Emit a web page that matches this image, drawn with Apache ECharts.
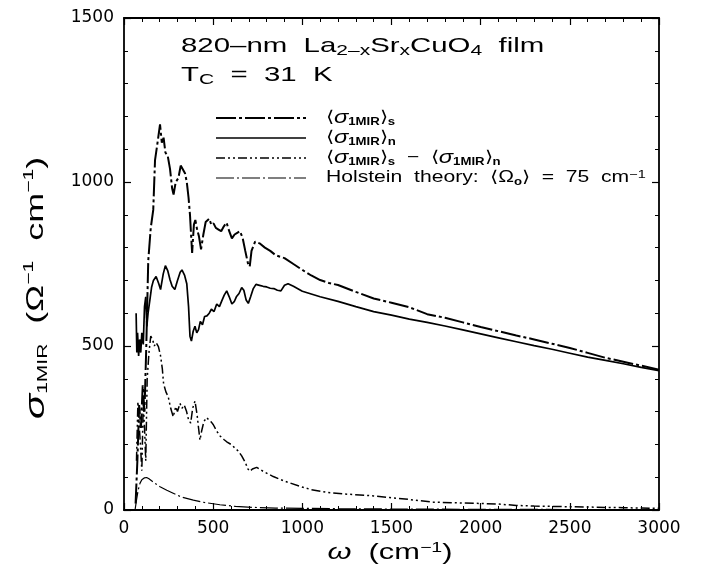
<!DOCTYPE html>
<html>
<head>
<meta charset="utf-8">
<script src="https://cdn.jsdelivr.net/npm/echarts@6/dist/echarts.min.js"></script>
<style>
  html, body { margin: 0; padding: 0; background: #fff; }
  #chart { width: 701px; height: 567px; }
</style>
</head>
<body>
<div id="chart"></div>
<script>
// Superconducting-state mid-infrared conductivity <sigma_1MIR>_s
const omegaS = [65, 75, 85, 95, 105, 115, 125, 136, 150, 164, 174, 188, 202, 212, 222, 232, 245, 258, 270, 278, 290, 305, 318, 328, 342, 352, 362, 370, 376, 382, 392, 400, 410, 420, 432, 445, 458, 468, 478, 490, 502, 515, 530, 545, 560, 575, 590, 605, 620, 635, 650, 665, 680, 695, 705, 715, 735, 760, 790, 820, 850, 875, 900, 950, 1000, 1050, 1100, 1150, 1200, 1300, 1400, 1500, 1600, 1700, 1800, 1900, 2000, 2100, 2200, 2300, 2400, 2500, 2600, 2700, 2800, 2900, 3000];
const sigmaS = [20, 150, 320, 250, 380, 300, 500, 760, 860, 915, 1067, 1120, 1176, 1120, 1135, 1090, 1080, 1040, 980, 962, 1000, 1012, 1050, 1055, 1027, 1000, 952, 900, 840, 784, 870, 884, 855, 835, 795, 840, 878, 872, 888, 869, 874, 860, 855, 850, 865, 876, 850, 828, 840, 845, 850, 830, 790, 752, 742, 790, 818, 813, 800, 790, 777, 772, 768, 750, 732, 715, 701, 692, 686, 665, 645, 632, 618, 597, 586, 572, 558, 545, 532, 520, 507, 494, 479, 464, 452, 440, 428];

// Normal-state mid-infrared conductivity <sigma_1MIR>_n
const omegaN = [68, 72, 76, 82, 88, 94, 100, 108, 115, 122, 128, 135, 145, 155, 165, 180, 195, 205, 220, 232, 245, 258, 270, 285, 300, 315, 325, 340, 352, 362, 370, 378, 388, 398, 408, 418, 428, 440, 452, 465, 478, 490, 505, 520, 535, 550, 562, 576, 590, 605, 618, 630, 645, 660, 672, 685, 697, 710, 725, 740, 760, 780, 800, 820, 840, 860, 880, 900, 920, 950, 1000, 1100, 1200, 1300, 1400, 1500, 1600, 1700, 1800, 1900, 2000, 2100, 2200, 2300, 2400, 2500, 2600, 2700, 2800, 2900, 3000];
const sigmaN = [600, 480, 540, 470, 520, 480, 540, 505, 620, 650, 560, 600, 640, 680, 700, 712, 690, 672, 720, 745, 730, 702, 682, 672, 700, 725, 732, 715, 690, 620, 530, 515, 545, 560, 540, 550, 575, 565, 590, 592, 600, 612, 605, 628, 620, 640, 655, 668, 650, 628, 635, 650, 660, 678, 670, 640, 630, 650, 675, 688, 685, 682, 680, 676, 675, 670, 668, 685, 690, 682, 667, 650, 636, 620, 605, 594, 582, 572, 561, 549, 537, 525, 513, 501, 490, 478, 466, 456, 446, 435, 425];

// Difference <sigma_1MIR>_s - <sigma_1MIR>_n
const omegaD = [70, 78, 85, 92, 100, 108, 115, 122, 130, 140, 150, 160, 170, 180, 193, 205, 215, 222, 235, 248, 262, 276, 290, 300, 314, 325, 338, 351, 362, 374, 385, 398, 410, 418, 426, 435, 448, 464, 475, 490, 501, 520, 540, 560, 576, 600, 620, 640, 660, 680, 695, 706, 720, 744, 780, 837, 900, 987, 1050, 1136, 1230, 1323, 1400, 1491, 1600, 1734, 1850, 2000, 2100, 2200, 2300, 2400, 2500, 2600, 2700, 2800, 2900, 3000];
const sigmaD = [150, 330, 260, 200, 120, 330, 250, 150, 400, 480, 530, 520, 500, 510, 498, 470, 430, 385, 360, 345, 310, 284, 315, 300, 325, 310, 320, 300, 275, 265, 310, 332, 290, 250, 213, 240, 270, 282, 275, 268, 260, 240, 225, 215, 208, 200, 190, 180, 165, 145, 125, 118, 125, 130, 118, 102, 88, 72, 62, 54, 49, 46, 43, 38, 32, 24, 22, 20, 18, 14, 12, 11, 10, 9, 8, 7, 6, 5];

// Holstein theory, <Omega_0> = 75 cm^-1
const omegaH = [62, 70, 80, 90, 100, 115, 127, 140, 160, 180, 202, 240, 276, 320, 389, 450, 538, 625, 725, 850, 1000, 1200, 1500, 2000, 2500, 3000];
const sigmaH = [0, 30, 62, 82, 92, 98, 99, 95, 87, 79, 71, 60, 51, 40, 30, 23, 16, 11, 8, 6, 5, 4, 3, 2, 1.5, 1];

// Axis ticks
const xTicks = [0, 500, 1000, 1500, 2000, 2500, 3000];
const yTicks = [0, 500, 1000, 1500];

const zip = (xs, ys) => xs.map((x, i) => [x, ys[i]]);

const FONT = 'Liberation Sans, Arial, sans-serif';
const TICK_FONT = 'DejaVu Sans, Liberation Sans, sans-serif';

// Line dash patterns shared by the curves and their legend samples
const DASH = {
  s: [20, 3, 3, 3],
  n: null,
  d: [9, 3, 2, 3, 2, 3],
  h: [18, 3, 2, 3]
};
const WIDTH = { s: 2, n: 1.7, d: 1.5, h: 1.2 };

const legendRows = [
  { key: 's', y: 118, text: '⟨{it|σ}{ls|1MIR}⟩{ls|s}' },
  { key: 'n', y: 138, text: '⟨{it|σ}{ls|1MIR}⟩{ls|n}' },
  { key: 'd', y: 158, text: '⟨{it|σ}{ls|1MIR}⟩{ls|s}  −  ⟨{it|σ}{ls|1MIR}⟩{ls|n}' },
  { key: 'h', y: 178, text: 'Holstein  theory:  ⟨Ω{ls|o}⟩  =  75  cm{lsup|−1}' }
];

const legendRich = {
  it: { fontSize: 18, fontStyle: 'italic', fontFamily: FONT, fill: '#000' },
  ls: { fontSize: 10, fontWeight: 'bold', fontFamily: FONT, fill: '#000', verticalAlign: 'bottom', padding: [6, 0, 0, 0] },
  lsup: { fontSize: 11, fontFamily: FONT, fill: '#000', verticalAlign: 'top', padding: [0, 0, 7, 0] }
};

const graphics = [];
legendRows.forEach(r => {
  graphics.push({
    type: 'line', silent: true,
    shape: { x1: 216, y1: r.y, x2: 306, y2: r.y },
    style: { stroke: '#000', lineWidth: WIDTH[r.key], lineDash: DASH[r.key] }
  });
  graphics.push({
    type: 'text', silent: true, x: 326, y: r.y, scaleX: 1.32,
    style: {
      text: r.text, rich: legendRich, fill: '#000',
      fontSize: 16, fontFamily: FONT, align: 'left', verticalAlign: 'middle'
    }
  });
});

const titleRich = {
  s: { fontSize: 15, fontFamily: FONT, fill: '#000', verticalAlign: 'bottom', padding: [9, 0, 0, 0] }
};
graphics.push({
  type: 'text', silent: true, x: 181, y: 46, scaleX: 1.4,
  style: {
    text: '820–nm  La{s|2–x}Sr{s|x}CuO{s|4}  film', rich: titleRich,
    fill: '#000', fontSize: 21, fontFamily: FONT, align: 'left', verticalAlign: 'middle'
  }
});
graphics.push({
  type: 'text', silent: true, x: 181, y: 75, scaleX: 1.4,
  style: {
    text: 'T{s|C}  =  31  K', rich: titleRich,
    fill: '#000', fontSize: 21, fontFamily: FONT, align: 'left', verticalAlign: 'middle'
  }
});

// Axis titles
graphics.push({
  type: 'text', silent: true, x: 390, y: 553, scaleX: 1.4,
  style: {
    text: '{it|ω}  (cm{sup|−1})',
    rich: {
      it: { fontSize: 22, fontStyle: 'italic', fontFamily: FONT, fill: '#000' },
      sup: { fontSize: 14, fontFamily: FONT, fill: '#000', verticalAlign: 'top', padding: [0, 0, 9, 0] }
    },
    fill: '#000', fontSize: 22, fontFamily: FONT, align: 'center', verticalAlign: 'middle'
  }
});
graphics.push({
  type: 'text', silent: true, x: 36, y: 288, rotation: Math.PI / 2, scaleX: 1.5,
  style: {
    text: '{it|σ}{sub|1MIR}  (Ω{sup|−1}  cm{sup|−1})',
    rich: {
      it: { fontSize: 28, fontStyle: 'italic', fontFamily: FONT, fill: '#000' },
      sub: { fontSize: 14, fontFamily: FONT, fill: '#000', verticalAlign: 'bottom', padding: [8, 0, 0, 0] },
      sup: { fontSize: 14, fontFamily: FONT, fill: '#000', verticalAlign: 'top', padding: [0, 0, 10, 0] }
    },
    fill: '#000', fontSize: 24, fontFamily: FONT, align: 'center', verticalAlign: 'middle'
  }
});

const axisCommon = {
  min: 0,
  axisLine: { show: true, onZero: false, lineStyle: { color: '#000', width: 1.8 } },
  axisTick: { show: true, inside: true, length: 7, lineStyle: { color: '#000', width: 1.2 } },
  minorTick: { show: true, splitNumber: 5, length: 4, lineStyle: { color: '#000', width: 1 } },
  splitLine: { show: false }
};

const chart = echarts.init(document.getElementById('chart'), null, { renderer: 'canvas' });

chart.setOption({
  backgroundColor: '#fff',
  animation: false,
  grid: { left: 124, right: 42, top: 18, bottom: 57, containLabel: false },
  xAxis: [
    Object.assign({}, axisCommon, {
      type: 'value', max: 3000, interval: 500, position: 'bottom',
      axisLabel: {
        color: '#000', fontSize: 17, fontFamily: TICK_FONT, margin: 10,
        formatter: v => (xTicks.includes(v) ? String(v) : '')
      }
    }),
    Object.assign({}, axisCommon, {
      type: 'value', max: 3000, interval: 500, position: 'top',
      axisLabel: { show: false }
    })
  ],
  yAxis: [
    Object.assign({}, axisCommon, {
      type: 'value', max: 1500, interval: 500, position: 'left',
      axisLabel: {
        color: '#000', fontSize: 17, fontFamily: TICK_FONT, margin: 10,
        formatter: v => (yTicks.includes(v) ? String(v) : '')
      }
    }),
    Object.assign({}, axisCommon, {
      type: 'value', max: 1500, interval: 500, position: 'right',
      axisLabel: { show: false }
    })
  ],
  graphic: graphics,
  series: [
    {
      name: '⟨σ1MIR⟩s', type: 'line', data: zip(omegaS, sigmaS), symbol: 'none', z: 4,
      lineStyle: { color: '#000', width: WIDTH.s, type: DASH.s }
    },
    {
      name: '⟨σ1MIR⟩n', type: 'line', data: zip(omegaN, sigmaN), symbol: 'none', z: 3,
      lineStyle: { color: '#000', width: WIDTH.n, type: 'solid' }
    },
    {
      name: '⟨σ1MIR⟩s − ⟨σ1MIR⟩n', type: 'line', data: zip(omegaD, sigmaD), symbol: 'none', z: 2,
      lineStyle: { color: '#000', width: WIDTH.d, type: DASH.d }
    },
    {
      name: 'Holstein theory', type: 'line', data: zip(omegaH, sigmaH), symbol: 'none', z: 1,
      lineStyle: { color: '#000', width: WIDTH.h, type: DASH.h }
    }
  ]
});
</script>
</body>
</html>
